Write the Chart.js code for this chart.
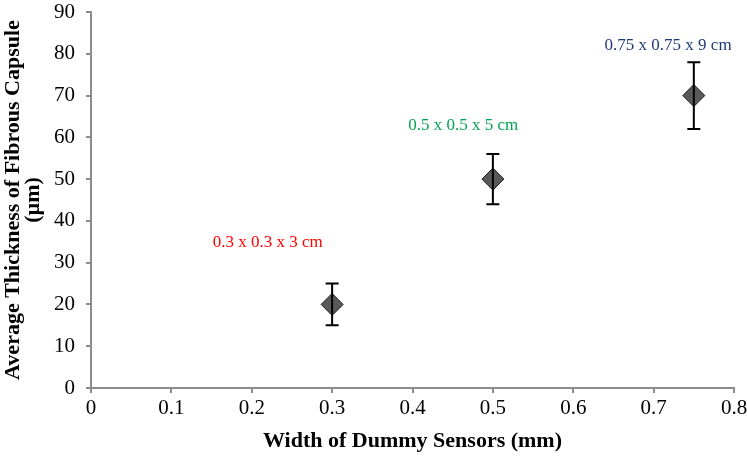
<!DOCTYPE html>
<html>
<head>
<meta charset="utf-8">
<script src="https://cdn.jsdelivr.net/npm/chart.js@4/dist/chart.umd.min.js"></script>
<style>
  html, body { margin: 0; padding: 0; background: #fff; }
  #wrap { width: 747px; height: 458px; }
</style>
</head>
<body>
<div id="wrap"><canvas id="myChart"></canvas></div>
<script>
// data
const widths = [0.3, 0.5, 0.75];
const thickness = [20, 50, 70];
const errLow = [15, 44, 62];
const errHigh = [25, 56, 78];
const sizeLabels = ['0.3 x 0.3 x 3 cm', '0.5 x 0.5 x 5 cm', '0.75 x 0.75 x 9 cm'];
const labelColors = ['#ff0000', '#00a650', '#1f3a7a'];
const xTicks = [0, 0.1, 0.2, 0.3, 0.4, 0.5, 0.6, 0.7, 0.8];
const yTicks = [0, 10, 20, 30, 40, 50, 60, 70, 80, 90];

// where each size label sits (data coords)
const labelX = [0.22, 0.463, 0.718];
const labelY = [34.8, 62.9, 81.9];

const serif = '"Liberation Serif", "Times New Roman", serif';

// error bars + size labels, drawn through the chart scales
const extrasPlugin = {
    id: 'extras',
    afterDatasetsDraw(chart) {
        const ctx = chart.ctx;
        const xs = chart.scales.x;
        const ys = chart.scales.y;
        ctx.save();
        ctx.strokeStyle = '#000';
        ctx.lineWidth = 2;
        for (let i = 0; i < widths.length; i++) {
            const px = xs.getPixelForValue(widths[i]);
            const top = ys.getPixelForValue(errHigh[i]);
            const bot = ys.getPixelForValue(errLow[i]);
            ctx.beginPath();
            ctx.moveTo(px, top); ctx.lineTo(px, bot);
            ctx.moveTo(px - 6.5, top); ctx.lineTo(px + 6.5, top);
            ctx.moveTo(px - 6.5, bot); ctx.lineTo(px + 6.5, bot);
            ctx.stroke();
        }
        ctx.restore();
    },
    afterDraw(chart) {
        const ctx = chart.ctx;
        const xs = chart.scales.x;
        const ys = chart.scales.y;
        ctx.save();
        ctx.font = '17px ' + serif;
        ctx.textAlign = 'center';
        ctx.textBaseline = 'middle';
        for (let i = 0; i < sizeLabels.length; i++) {
            ctx.fillStyle = labelColors[i];
            ctx.fillText(sizeLabels[i], xs.getPixelForValue(labelX[i]), ys.getPixelForValue(labelY[i]));
        }
        ctx.restore();
    }
};

const ctx = document.getElementById('myChart').getContext('2d');
const myChart = new Chart(ctx, {
    type: 'scatter',
    data: {
        datasets: [{
            data: widths.map((w, i) => ({ x: w, y: thickness[i] })),
            pointStyle: 'rectRot',
            pointRadius: 11,
            pointHoverRadius: 11,
            backgroundColor: '#595959',
            borderColor: '#1a1a1a',
            borderWidth: 1,
        }]
    },
    options: {
        responsive: true,
        maintainAspectRatio: false,
        animation: false,
        layout: { padding: { top: 10, right: 13, left: 0, bottom: 0 } },
        plugins: {
            legend: { display: false },
            tooltip: { enabled: false },
        },
        scales: {
            x: {
                type: 'linear',
                min: 0,
                max: 0.8,
                afterBuildTicks: (s) => { s.ticks = xTicks.map(v => ({ value: v })); },
                afterFit: (s) => { s.height = 70; s.paddingRight = 0; s.paddingLeft = 0; },
                border: { color: '#8c8c8c', width: 2 },
                grid: { drawOnChartArea: false, drawTicks: true, tickLength: 5, color: '#8c8c8c', lineWidth: 2 },
                ticks: {
                    color: '#000',
                    padding: 3,
                    maxRotation: 0,
                    font: { family: serif, size: 21 },
                    callback: (v) => String(v),
                },
                title: {
                    display: true,
                    text: 'Width of Dummy Sensors (mm)',
                    color: '#000',
                    font: { family: serif, size: 22, weight: 'bold', lineHeight: 1.1 },
                    padding: { top: 0, bottom: 5 },
                }
            },
            y: {
                min: 0,
                max: 90,
                afterBuildTicks: (s) => { s.ticks = yTicks.map(v => ({ value: v })); },
                afterFit: (s) => { s.width = 91; s.paddingTop = 0; s.paddingBottom = 0; },
                border: { color: '#8c8c8c', width: 2 },
                grid: { drawOnChartArea: false, drawTicks: true, tickLength: 5, color: '#8c8c8c', lineWidth: 2 },
                ticks: {
                    color: '#000',
                    padding: 11,
                    font: { family: serif, size: 21 },
                },
                title: {
                    display: true,
                    text: ['Average Thickness of Fibrous Capsule', '(µm)'],
                    color: '#000',
                    font: { family: serif, size: 22, weight: 'bold', lineHeight: 0.88 },
                    padding: { top: 4, bottom: 0 },
                }
            }
        }
    },
    plugins: [extrasPlugin]
});
</script>
</body>
</html>
